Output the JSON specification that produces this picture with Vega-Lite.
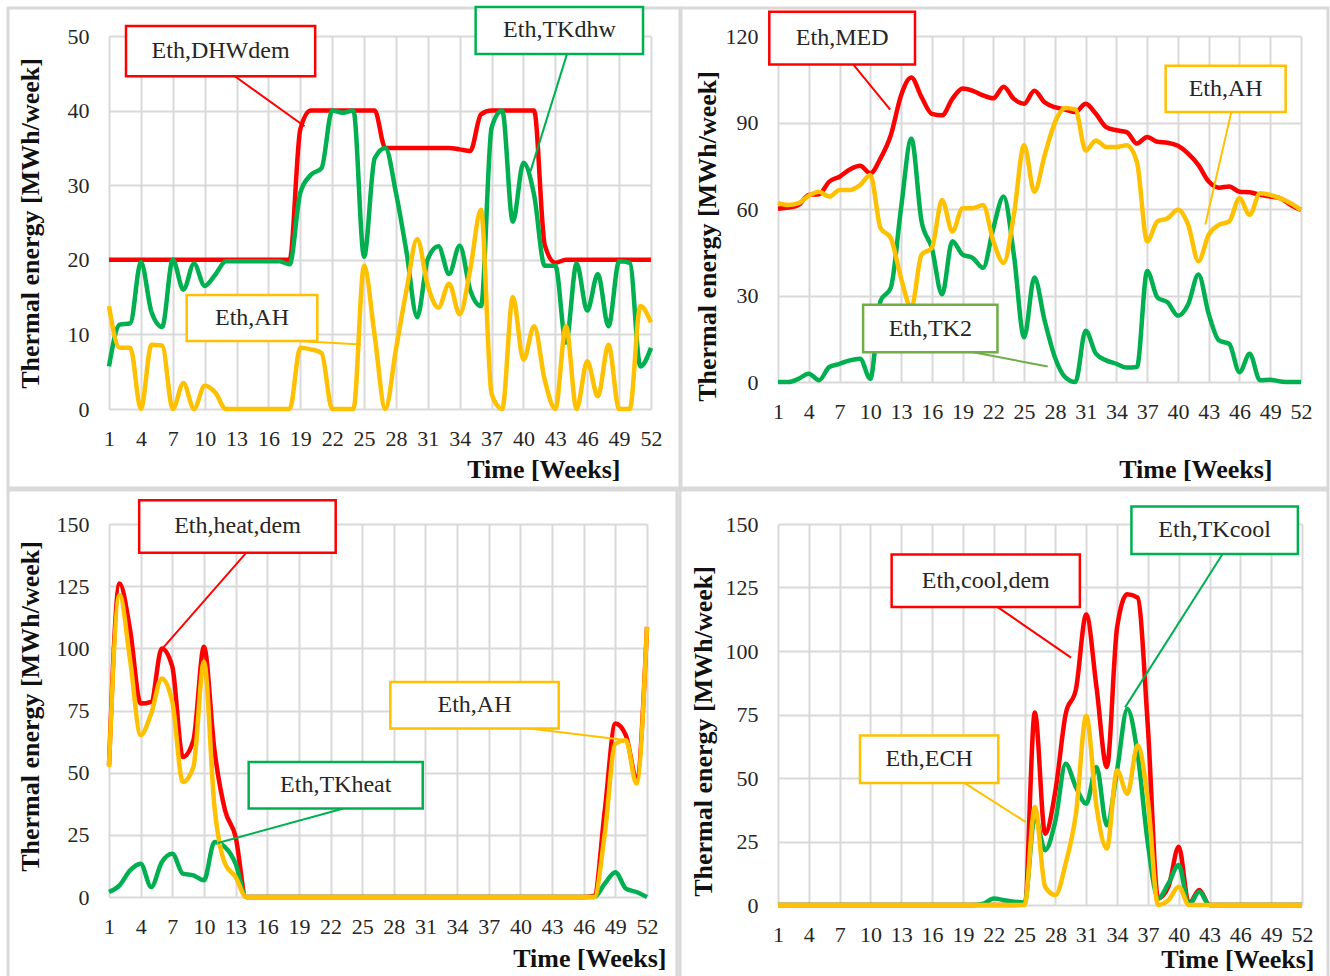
{
"$schema": "https://vega.github.io/schema/vega-lite/v6.json",
"autosize": {"type": "none"},
"padding": {"left": 109, "top": 36, "right": 1221, "bottom": 940},
"background": "white",
"bounds": "flush",
"columns": 2,
"align": "each",
"spacing": {"row": 115, "column": 127},
"datasets": {
"p1": [
{"week":1,"series":"DHWdem","value":20},{"week":2,"series":"DHWdem","value":20},{"week":3,"series":"DHWdem","value":20},{"week":4,"series":"DHWdem","value":20},{"week":5,"series":"DHWdem","value":20},{"week":6,"series":"DHWdem","value":20},{"week":7,"series":"DHWdem","value":20},{"week":8,"series":"DHWdem","value":20},{"week":9,"series":"DHWdem","value":20},{"week":10,"series":"DHWdem","value":20},{"week":11,"series":"DHWdem","value":20},{"week":12,"series":"DHWdem","value":20},{"week":13,"series":"DHWdem","value":20},{"week":14,"series":"DHWdem","value":20},{"week":15,"series":"DHWdem","value":20},{"week":16,"series":"DHWdem","value":20},{"week":17,"series":"DHWdem","value":20},{"week":18,"series":"DHWdem","value":20},{"week":19,"series":"DHWdem","value":37.5},{"week":20,"series":"DHWdem","value":40},{"week":21,"series":"DHWdem","value":40},{"week":22,"series":"DHWdem","value":40},{"week":23,"series":"DHWdem","value":40},{"week":24,"series":"DHWdem","value":40},{"week":25,"series":"DHWdem","value":40},{"week":26,"series":"DHWdem","value":40},{"week":27,"series":"DHWdem","value":35},{"week":28,"series":"DHWdem","value":35},{"week":29,"series":"DHWdem","value":35},{"week":30,"series":"DHWdem","value":35},{"week":31,"series":"DHWdem","value":35},{"week":32,"series":"DHWdem","value":35},{"week":33,"series":"DHWdem","value":35},{"week":34,"series":"DHWdem","value":34.8},{"week":35,"series":"DHWdem","value":34.6},{"week":36,"series":"DHWdem","value":39.5},{"week":37,"series":"DHWdem","value":40},{"week":38,"series":"DHWdem","value":40},{"week":39,"series":"DHWdem","value":40},{"week":40,"series":"DHWdem","value":40},{"week":41,"series":"DHWdem","value":40},{"week":42,"series":"DHWdem","value":22},{"week":43,"series":"DHWdem","value":19.6},{"week":44,"series":"DHWdem","value":20},{"week":45,"series":"DHWdem","value":20},{"week":46,"series":"DHWdem","value":20},{"week":47,"series":"DHWdem","value":20},{"week":48,"series":"DHWdem","value":20},{"week":49,"series":"DHWdem","value":20},{"week":50,"series":"DHWdem","value":20},{"week":51,"series":"DHWdem","value":20},{"week":52,"series":"DHWdem","value":20},
{"week":1,"series":"TKdhw","value":5.7},{"week":2,"series":"TKdhw","value":11.3},{"week":3,"series":"TKdhw","value":11.5},{"week":4,"series":"TKdhw","value":19.7},{"week":5,"series":"TKdhw","value":13},{"week":6,"series":"TKdhw","value":11},{"week":7,"series":"TKdhw","value":20},{"week":8,"series":"TKdhw","value":16},{"week":9,"series":"TKdhw","value":19.5},{"week":10,"series":"TKdhw","value":16.5},{"week":11,"series":"TKdhw","value":18},{"week":12,"series":"TKdhw","value":19.8},{"week":13,"series":"TKdhw","value":19.8},{"week":14,"series":"TKdhw","value":19.8},{"week":15,"series":"TKdhw","value":19.8},{"week":16,"series":"TKdhw","value":19.8},{"week":17,"series":"TKdhw","value":19.8},{"week":18,"series":"TKdhw","value":19.4},{"week":19,"series":"TKdhw","value":29},{"week":20,"series":"TKdhw","value":31.4},{"week":21,"series":"TKdhw","value":32.3},{"week":22,"series":"TKdhw","value":40},{"week":23,"series":"TKdhw","value":39.7},{"week":24,"series":"TKdhw","value":40},{"week":25,"series":"TKdhw","value":20.4},{"week":26,"series":"TKdhw","value":33.6},{"week":27,"series":"TKdhw","value":35},{"week":28,"series":"TKdhw","value":29},{"week":29,"series":"TKdhw","value":21},{"week":30,"series":"TKdhw","value":12.3},{"week":31,"series":"TKdhw","value":20.1},{"week":32,"series":"TKdhw","value":21.8},{"week":33,"series":"TKdhw","value":18.1},{"week":34,"series":"TKdhw","value":21.9},{"week":35,"series":"TKdhw","value":15.9},{"week":36,"series":"TKdhw","value":13.8},{"week":37,"series":"TKdhw","value":37.7},{"week":38,"series":"TKdhw","value":40},{"week":39,"series":"TKdhw","value":25.1},{"week":40,"series":"TKdhw","value":33},{"week":41,"series":"TKdhw","value":28.7},{"week":42,"series":"TKdhw","value":19.2},{"week":43,"series":"TKdhw","value":19.2},{"week":44,"series":"TKdhw","value":8.9},{"week":45,"series":"TKdhw","value":19.5},{"week":46,"series":"TKdhw","value":13.2},{"week":47,"series":"TKdhw","value":18.1},{"week":48,"series":"TKdhw","value":11.1},{"week":49,"series":"TKdhw","value":19.8},{"week":50,"series":"TKdhw","value":19.6},{"week":51,"series":"TKdhw","value":5.7},{"week":52,"series":"TKdhw","value":8.2},
{"week":1,"series":"AH","value":13.8},{"week":2,"series":"AH","value":8.2},{"week":3,"series":"AH","value":8.2},{"week":4,"series":"AH","value":0},{"week":5,"series":"AH","value":8.6},{"week":6,"series":"AH","value":8.5},{"week":7,"series":"AH","value":0},{"week":8,"series":"AH","value":3.5},{"week":9,"series":"AH","value":0},{"week":10,"series":"AH","value":3.1},{"week":11,"series":"AH","value":2.2},{"week":12,"series":"AH","value":0},{"week":13,"series":"AH","value":0},{"week":14,"series":"AH","value":0},{"week":15,"series":"AH","value":0},{"week":16,"series":"AH","value":0},{"week":17,"series":"AH","value":0},{"week":18,"series":"AH","value":0},{"week":19,"series":"AH","value":8.2},{"week":20,"series":"AH","value":8},{"week":21,"series":"AH","value":7.5},{"week":22,"series":"AH","value":0},{"week":23,"series":"AH","value":0},{"week":24,"series":"AH","value":0},{"week":25,"series":"AH","value":19.2},{"week":26,"series":"AH","value":9.8},{"week":27,"series":"AH","value":0},{"week":28,"series":"AH","value":8},{"week":29,"series":"AH","value":16},{"week":30,"series":"AH","value":22.8},{"week":31,"series":"AH","value":16.5},{"week":32,"series":"AH","value":13.6},{"week":33,"series":"AH","value":16.8},{"week":34,"series":"AH","value":12.7},{"week":35,"series":"AH","value":18.8},{"week":36,"series":"AH","value":26.7},{"week":37,"series":"AH","value":2},{"week":38,"series":"AH","value":0},{"week":39,"series":"AH","value":15},{"week":40,"series":"AH","value":6.6},{"week":41,"series":"AH","value":11.1},{"week":42,"series":"AH","value":3.9},{"week":43,"series":"AH","value":0},{"week":44,"series":"AH","value":11.1},{"week":45,"series":"AH","value":0},{"week":46,"series":"AH","value":6.4},{"week":47,"series":"AH","value":1.7},{"week":48,"series":"AH","value":8.6},{"week":49,"series":"AH","value":0},{"week":50,"series":"AH","value":0},{"week":51,"series":"AH","value":13.8},{"week":52,"series":"AH","value":11.6}
],
"p2": [
{"week":1,"series":"MED","value":60.1},{"week":2,"series":"MED","value":60.5},{"week":3,"series":"MED","value":61.4},{"week":4,"series":"MED","value":64.9},{"week":5,"series":"MED","value":65.1},{"week":6,"series":"MED","value":69.5},{"week":7,"series":"MED","value":71.2},{"week":8,"series":"MED","value":73.7},{"week":9,"series":"MED","value":75},{"week":10,"series":"MED","value":72.4},{"week":11,"series":"MED","value":77.6},{"week":12,"series":"MED","value":85.6},{"week":13,"series":"MED","value":99.4},{"week":14,"series":"MED","value":105.6},{"week":15,"series":"MED","value":98.8},{"week":16,"series":"MED","value":93},{"week":17,"series":"MED","value":92.5},{"week":18,"series":"MED","value":98.2},{"week":19,"series":"MED","value":101.8},{"week":20,"series":"MED","value":101},{"week":21,"series":"MED","value":99.4},{"week":22,"series":"MED","value":98.4},{"week":23,"series":"MED","value":102.4},{"week":24,"series":"MED","value":98.2},{"week":25,"series":"MED","value":96.5},{"week":26,"series":"MED","value":101},{"week":27,"series":"MED","value":97},{"week":28,"series":"MED","value":95.3},{"week":29,"series":"MED","value":94.5},{"week":30,"series":"MED","value":93.6},{"week":31,"series":"MED","value":96.5},{"week":32,"series":"MED","value":93},{"week":33,"series":"MED","value":88.4},{"week":34,"series":"MED","value":87.3},{"week":35,"series":"MED","value":86.7},{"week":36,"series":"MED","value":82.7},{"week":37,"series":"MED","value":85},{"week":38,"series":"MED","value":83.3},{"week":39,"series":"MED","value":83},{"week":40,"series":"MED","value":81.9},{"week":41,"series":"MED","value":79.2},{"week":42,"series":"MED","value":75.2},{"week":43,"series":"MED","value":69.5},{"week":44,"series":"MED","value":67.4},{"week":45,"series":"MED","value":67.8},{"week":46,"series":"MED","value":66},{"week":47,"series":"MED","value":65.8},{"week":48,"series":"MED","value":64.9},{"week":49,"series":"MED","value":64.3},{"week":50,"series":"MED","value":63.7},{"week":51,"series":"MED","value":61.4},{"week":52,"series":"MED","value":59.7},
{"week":1,"series":"AH","value":62},{"week":2,"series":"AH","value":61.4},{"week":3,"series":"AH","value":62},{"week":4,"series":"AH","value":64.6},{"week":5,"series":"AH","value":66},{"week":6,"series":"AH","value":64.3},{"week":7,"series":"AH","value":66.6},{"week":8,"series":"AH","value":66.6},{"week":9,"series":"AH","value":68.3},{"week":10,"series":"AH","value":71.8},{"week":11,"series":"AH","value":53.4},{"week":12,"series":"AH","value":49.9},{"week":13,"series":"AH","value":36},{"week":14,"series":"AH","value":25.8},{"week":15,"series":"AH","value":44.2},{"week":16,"series":"AH","value":46.5},{"week":17,"series":"AH","value":63.1},{"week":18,"series":"AH","value":52.2},{"week":19,"series":"AH","value":60.3},{"week":20,"series":"AH","value":60.3},{"week":21,"series":"AH","value":61.4},{"week":22,"series":"AH","value":48.8},{"week":23,"series":"AH","value":41.3},{"week":24,"series":"AH","value":58},{"week":25,"series":"AH","value":82.1},{"week":26,"series":"AH","value":66},{"week":27,"series":"AH","value":78.6},{"week":28,"series":"AH","value":90},{"week":29,"series":"AH","value":95},{"week":30,"series":"AH","value":94.5},{"week":31,"series":"AH","value":80.3},{"week":32,"series":"AH","value":83.8},{"week":33,"series":"AH","value":81.5},{"week":34,"series":"AH","value":81.5},{"week":35,"series":"AH","value":82.1},{"week":36,"series":"AH","value":76.3},{"week":37,"series":"AH","value":48.8},{"week":38,"series":"AH","value":55.7},{"week":39,"series":"AH","value":56.8},{"week":40,"series":"AH","value":59.7},{"week":41,"series":"AH","value":54.5},{"week":42,"series":"AH","value":41.9},{"week":43,"series":"AH","value":51.1},{"week":44,"series":"AH","value":54.5},{"week":45,"series":"AH","value":55.7},{"week":46,"series":"AH","value":63.7},{"week":47,"series":"AH","value":58},{"week":48,"series":"AH","value":65.5},{"week":49,"series":"AH","value":64.9},{"week":50,"series":"AH","value":63.7},{"week":51,"series":"AH","value":62},{"week":52,"series":"AH","value":59.7},
{"week":1,"series":"TK2","value":0},{"week":2,"series":"TK2","value":0},{"week":3,"series":"TK2","value":1.1},{"week":4,"series":"TK2","value":2.9},{"week":5,"series":"TK2","value":0.6},{"week":6,"series":"TK2","value":5.2},{"week":7,"series":"TK2","value":6.3},{"week":8,"series":"TK2","value":7.5},{"week":9,"series":"TK2","value":8.1},{"week":10,"series":"TK2","value":1.1},{"week":11,"series":"TK2","value":28.1},{"week":12,"series":"TK2","value":32.7},{"week":13,"series":"TK2","value":60.3},{"week":14,"series":"TK2","value":84.4},{"week":15,"series":"TK2","value":55.7},{"week":16,"series":"TK2","value":46.5},{"week":17,"series":"TK2","value":30.4},{"week":18,"series":"TK2","value":48.8},{"week":19,"series":"TK2","value":44.2},{"week":20,"series":"TK2","value":43},{"week":21,"series":"TK2","value":39.6},{"week":22,"series":"TK2","value":53.4},{"week":23,"series":"TK2","value":64.3},{"week":24,"series":"TK2","value":44.2},{"week":25,"series":"TK2","value":15.5},{"week":26,"series":"TK2","value":36.2},{"week":27,"series":"TK2","value":21.3},{"week":28,"series":"TK2","value":8.6},{"week":29,"series":"TK2","value":1.7},{"week":30,"series":"TK2","value":0},{"week":31,"series":"TK2","value":17.8},{"week":32,"series":"TK2","value":9.8},{"week":33,"series":"TK2","value":7.5},{"week":34,"series":"TK2","value":6.3},{"week":35,"series":"TK2","value":5},{"week":36,"series":"TK2","value":5.2},{"week":37,"series":"TK2","value":38.5},{"week":38,"series":"TK2","value":29.3},{"week":39,"series":"TK2","value":27.6},{"week":40,"series":"TK2","value":23},{"week":41,"series":"TK2","value":27},{"week":42,"series":"TK2","value":37.3},{"week":43,"series":"TK2","value":23.6},{"week":44,"series":"TK2","value":14.4},{"week":45,"series":"TK2","value":13.2},{"week":46,"series":"TK2","value":3.4},{"week":47,"series":"TK2","value":9.8},{"week":48,"series":"TK2","value":0.6},{"week":49,"series":"TK2","value":0.8},{"week":50,"series":"TK2","value":0.2},{"week":51,"series":"TK2","value":0},{"week":52,"series":"TK2","value":0}
],
"p3": [
{"week":1,"series":"heatdem","value":53},{"week":2,"series":"heatdem","value":126.1},{"week":3,"series":"heatdem","value":107.4},{"week":4,"series":"heatdem","value":77.8},{"week":5,"series":"heatdem","value":78.5},{"week":6,"series":"heatdem","value":99.9},{"week":7,"series":"heatdem","value":92.6},{"week":8,"series":"heatdem","value":56.3},{"week":9,"series":"heatdem","value":63},{"week":10,"series":"heatdem","value":100.6},{"week":11,"series":"heatdem","value":59},{"week":12,"series":"heatdem","value":34.9},{"week":13,"series":"heatdem","value":24.2},{"week":14,"series":"heatdem","value":0},{"week":15,"series":"heatdem","value":0},{"week":16,"series":"heatdem","value":0},{"week":17,"series":"heatdem","value":0},{"week":18,"series":"heatdem","value":0},{"week":19,"series":"heatdem","value":0},{"week":20,"series":"heatdem","value":0},{"week":21,"series":"heatdem","value":0},{"week":22,"series":"heatdem","value":0},{"week":23,"series":"heatdem","value":0},{"week":24,"series":"heatdem","value":0},{"week":25,"series":"heatdem","value":0},{"week":26,"series":"heatdem","value":0},{"week":27,"series":"heatdem","value":0},{"week":28,"series":"heatdem","value":0},{"week":29,"series":"heatdem","value":0},{"week":30,"series":"heatdem","value":0},{"week":31,"series":"heatdem","value":0},{"week":32,"series":"heatdem","value":0},{"week":33,"series":"heatdem","value":0},{"week":34,"series":"heatdem","value":0},{"week":35,"series":"heatdem","value":0},{"week":36,"series":"heatdem","value":0},{"week":37,"series":"heatdem","value":0},{"week":38,"series":"heatdem","value":0},{"week":39,"series":"heatdem","value":0},{"week":40,"series":"heatdem","value":0},{"week":41,"series":"heatdem","value":0},{"week":42,"series":"heatdem","value":0},{"week":43,"series":"heatdem","value":0},{"week":44,"series":"heatdem","value":0},{"week":45,"series":"heatdem","value":0},{"week":46,"series":"heatdem","value":0},{"week":47,"series":"heatdem","value":0.5},{"week":48,"series":"heatdem","value":34.9},{"week":49,"series":"heatdem","value":69.8},{"week":50,"series":"heatdem","value":65},{"week":51,"series":"heatdem","value":48.3},{"week":52,"series":"heatdem","value":108.6},
{"week":1,"series":"TKheat","value":2},{"week":2,"series":"TKheat","value":4.7},{"week":3,"series":"TKheat","value":10.7},{"week":4,"series":"TKheat","value":13.4},{"week":5,"series":"TKheat","value":4},{"week":6,"series":"TKheat","value":14},{"week":7,"series":"TKheat","value":17.4},{"week":8,"series":"TKheat","value":9.4},{"week":9,"series":"TKheat","value":8.7},{"week":10,"series":"TKheat","value":6.7},{"week":11,"series":"TKheat","value":22.1},{"week":12,"series":"TKheat","value":20.1},{"week":13,"series":"TKheat","value":13.4},{"week":14,"series":"TKheat","value":0},{"week":15,"series":"TKheat","value":0},{"week":16,"series":"TKheat","value":0},{"week":17,"series":"TKheat","value":0},{"week":18,"series":"TKheat","value":0},{"week":19,"series":"TKheat","value":0},{"week":20,"series":"TKheat","value":0},{"week":21,"series":"TKheat","value":0},{"week":22,"series":"TKheat","value":0},{"week":23,"series":"TKheat","value":0},{"week":24,"series":"TKheat","value":0},{"week":25,"series":"TKheat","value":0},{"week":26,"series":"TKheat","value":0},{"week":27,"series":"TKheat","value":0},{"week":28,"series":"TKheat","value":0},{"week":29,"series":"TKheat","value":0},{"week":30,"series":"TKheat","value":0},{"week":31,"series":"TKheat","value":0},{"week":32,"series":"TKheat","value":0},{"week":33,"series":"TKheat","value":0},{"week":34,"series":"TKheat","value":0},{"week":35,"series":"TKheat","value":0},{"week":36,"series":"TKheat","value":0},{"week":37,"series":"TKheat","value":0},{"week":38,"series":"TKheat","value":0},{"week":39,"series":"TKheat","value":0},{"week":40,"series":"TKheat","value":0},{"week":41,"series":"TKheat","value":0},{"week":42,"series":"TKheat","value":0},{"week":43,"series":"TKheat","value":0},{"week":44,"series":"TKheat","value":0},{"week":45,"series":"TKheat","value":0},{"week":46,"series":"TKheat","value":0},{"week":47,"series":"TKheat","value":0},{"week":48,"series":"TKheat","value":5.4},{"week":49,"series":"TKheat","value":10},{"week":50,"series":"TKheat","value":3.4},{"week":51,"series":"TKheat","value":2},{"week":52,"series":"TKheat","value":0},
{"week":1,"series":"AH","value":52.3},{"week":2,"series":"AH","value":121.4},{"week":3,"series":"AH","value":95.3},{"week":4,"series":"AH","value":65.1},{"week":5,"series":"AH","value":73.8},{"week":6,"series":"AH","value":87.9},{"week":7,"series":"AH","value":78.5},{"week":8,"series":"AH","value":46.3},{"week":9,"series":"AH","value":52.3},{"week":10,"series":"AH","value":94.6},{"week":11,"series":"AH","value":36.2},{"week":12,"series":"AH","value":13.4},{"week":13,"series":"AH","value":8.1},{"week":14,"series":"AH","value":0},{"week":15,"series":"AH","value":0},{"week":16,"series":"AH","value":0},{"week":17,"series":"AH","value":0},{"week":18,"series":"AH","value":0},{"week":19,"series":"AH","value":0},{"week":20,"series":"AH","value":0},{"week":21,"series":"AH","value":0},{"week":22,"series":"AH","value":0},{"week":23,"series":"AH","value":0},{"week":24,"series":"AH","value":0},{"week":25,"series":"AH","value":0},{"week":26,"series":"AH","value":0},{"week":27,"series":"AH","value":0},{"week":28,"series":"AH","value":0},{"week":29,"series":"AH","value":0},{"week":30,"series":"AH","value":0},{"week":31,"series":"AH","value":0},{"week":32,"series":"AH","value":0},{"week":33,"series":"AH","value":0},{"week":34,"series":"AH","value":0},{"week":35,"series":"AH","value":0},{"week":36,"series":"AH","value":0},{"week":37,"series":"AH","value":0},{"week":38,"series":"AH","value":0},{"week":39,"series":"AH","value":0},{"week":40,"series":"AH","value":0},{"week":41,"series":"AH","value":0},{"week":42,"series":"AH","value":0},{"week":43,"series":"AH","value":0},{"week":44,"series":"AH","value":0},{"week":45,"series":"AH","value":0},{"week":46,"series":"AH","value":0},{"week":47,"series":"AH","value":0},{"week":48,"series":"AH","value":25.5},{"week":49,"series":"AH","value":61.7},{"week":50,"series":"AH","value":63},{"week":51,"series":"AH","value":45.6},{"week":52,"series":"AH","value":108.6}
],
"p4": [
{"week":1,"series":"cooldem","value":0},{"week":2,"series":"cooldem","value":0},{"week":3,"series":"cooldem","value":0},{"week":4,"series":"cooldem","value":0},{"week":5,"series":"cooldem","value":0},{"week":6,"series":"cooldem","value":0},{"week":7,"series":"cooldem","value":0},{"week":8,"series":"cooldem","value":0},{"week":9,"series":"cooldem","value":0},{"week":10,"series":"cooldem","value":0},{"week":11,"series":"cooldem","value":0},{"week":12,"series":"cooldem","value":0},{"week":13,"series":"cooldem","value":0},{"week":14,"series":"cooldem","value":0},{"week":15,"series":"cooldem","value":0},{"week":16,"series":"cooldem","value":0},{"week":17,"series":"cooldem","value":0},{"week":18,"series":"cooldem","value":0},{"week":19,"series":"cooldem","value":0},{"week":20,"series":"cooldem","value":0},{"week":21,"series":"cooldem","value":0},{"week":22,"series":"cooldem","value":0},{"week":23,"series":"cooldem","value":0},{"week":24,"series":"cooldem","value":0},{"week":25,"series":"cooldem","value":0.5},{"week":26,"series":"cooldem","value":75.8},{"week":27,"series":"cooldem","value":28.1},{"week":28,"series":"cooldem","value":45},{"week":29,"series":"cooldem","value":75.2},{"week":30,"series":"cooldem","value":85},{"week":31,"series":"cooldem","value":114.4},{"week":32,"series":"cooldem","value":85.7},{"week":33,"series":"cooldem","value":54.3},{"week":34,"series":"cooldem","value":109.2},{"week":35,"series":"cooldem","value":122.3},{"week":36,"series":"cooldem","value":121},{"week":37,"series":"cooldem","value":70},{"week":38,"series":"cooldem","value":2.6},{"week":39,"series":"cooldem","value":7.2},{"week":40,"series":"cooldem","value":22.9},{"week":41,"series":"cooldem","value":0.5},{"week":42,"series":"cooldem","value":5.9},{"week":43,"series":"cooldem","value":0},{"week":44,"series":"cooldem","value":0},{"week":45,"series":"cooldem","value":0},{"week":46,"series":"cooldem","value":0},{"week":47,"series":"cooldem","value":0},{"week":48,"series":"cooldem","value":0},{"week":49,"series":"cooldem","value":0},{"week":50,"series":"cooldem","value":0},{"week":51,"series":"cooldem","value":0},{"week":52,"series":"cooldem","value":0},
{"week":1,"series":"TKcool","value":0},{"week":2,"series":"TKcool","value":0},{"week":3,"series":"TKcool","value":0},{"week":4,"series":"TKcool","value":0},{"week":5,"series":"TKcool","value":0},{"week":6,"series":"TKcool","value":0},{"week":7,"series":"TKcool","value":0},{"week":8,"series":"TKcool","value":0},{"week":9,"series":"TKcool","value":0},{"week":10,"series":"TKcool","value":0},{"week":11,"series":"TKcool","value":0},{"week":12,"series":"TKcool","value":0},{"week":13,"series":"TKcool","value":0},{"week":14,"series":"TKcool","value":0},{"week":15,"series":"TKcool","value":0},{"week":16,"series":"TKcool","value":0},{"week":17,"series":"TKcool","value":0},{"week":18,"series":"TKcool","value":0},{"week":19,"series":"TKcool","value":0},{"week":20,"series":"TKcool","value":0},{"week":21,"series":"TKcool","value":0.5},{"week":22,"series":"TKcool","value":2.6},{"week":23,"series":"TKcool","value":1.9},{"week":24,"series":"TKcool","value":1.3},{"week":25,"series":"TKcool","value":1},{"week":26,"series":"TKcool","value":35},{"week":27,"series":"TKcool","value":21.6},{"week":28,"series":"TKcool","value":33.3},{"week":29,"series":"TKcool","value":55.6},{"week":30,"series":"TKcool","value":46.4},{"week":31,"series":"TKcool","value":39.9},{"week":32,"series":"TKcool","value":54.3},{"week":33,"series":"TKcool","value":31.4},{"week":34,"series":"TKcool","value":53},{"week":35,"series":"TKcool","value":77.2},{"week":36,"series":"TKcool","value":59.5},{"week":37,"series":"TKcool","value":24.2},{"week":38,"series":"TKcool","value":2.6},{"week":39,"series":"TKcool","value":8.5},{"week":40,"series":"TKcool","value":15.7},{"week":41,"series":"TKcool","value":0},{"week":42,"series":"TKcool","value":5.2},{"week":43,"series":"TKcool","value":0},{"week":44,"series":"TKcool","value":0},{"week":45,"series":"TKcool","value":0},{"week":46,"series":"TKcool","value":0},{"week":47,"series":"TKcool","value":0},{"week":48,"series":"TKcool","value":0},{"week":49,"series":"TKcool","value":0},{"week":50,"series":"TKcool","value":0},{"week":51,"series":"TKcool","value":0},{"week":52,"series":"TKcool","value":0},
{"week":1,"series":"ECH","value":0},{"week":2,"series":"ECH","value":0},{"week":3,"series":"ECH","value":0},{"week":4,"series":"ECH","value":0},{"week":5,"series":"ECH","value":0},{"week":6,"series":"ECH","value":0},{"week":7,"series":"ECH","value":0},{"week":8,"series":"ECH","value":0},{"week":9,"series":"ECH","value":0},{"week":10,"series":"ECH","value":0},{"week":11,"series":"ECH","value":0},{"week":12,"series":"ECH","value":0},{"week":13,"series":"ECH","value":0},{"week":14,"series":"ECH","value":0},{"week":15,"series":"ECH","value":0},{"week":16,"series":"ECH","value":0},{"week":17,"series":"ECH","value":0},{"week":18,"series":"ECH","value":0},{"week":19,"series":"ECH","value":0},{"week":20,"series":"ECH","value":0},{"week":21,"series":"ECH","value":0},{"week":22,"series":"ECH","value":0},{"week":23,"series":"ECH","value":0},{"week":24,"series":"ECH","value":0},{"week":25,"series":"ECH","value":0},{"week":26,"series":"ECH","value":38.6},{"week":27,"series":"ECH","value":7.2},{"week":28,"series":"ECH","value":3.9},{"week":29,"series":"ECH","value":16.4},{"week":30,"series":"ECH","value":36},{"week":31,"series":"ECH","value":74.5},{"week":32,"series":"ECH","value":38.6},{"week":33,"series":"ECH","value":22.2},{"week":34,"series":"ECH","value":53},{"week":35,"series":"ECH","value":43.8},{"week":36,"series":"ECH","value":62.8},{"week":37,"series":"ECH","value":41.2},{"week":38,"series":"ECH","value":0},{"week":39,"series":"ECH","value":1.9},{"week":40,"series":"ECH","value":7.2},{"week":41,"series":"ECH","value":0},{"week":42,"series":"ECH","value":0},{"week":43,"series":"ECH","value":0},{"week":44,"series":"ECH","value":0},{"week":45,"series":"ECH","value":0},{"week":46,"series":"ECH","value":0},{"week":47,"series":"ECH","value":0},{"week":48,"series":"ECH","value":0},{"week":49,"series":"ECH","value":0},{"week":50,"series":"ECH","value":0},{"week":51,"series":"ECH","value":0},{"week":52,"series":"ECH","value":0}
],
"notes": [
{"panel":1,"series":"DHWdem","label":"Eth,DHWdem","bx1":2.6,"bx2":20.4,"by1":44.6,"by2":51.35,"cx":11.5,"cy":47.97,"lx1":12.84,"ly1":44.6,"lx2":19.4,"ly2":37.9},
{"panel":1,"series":"TKdhw","label":"Eth,TKdhw","bx1":35.5,"bx2":51.25,"by1":47.6,"by2":53.9,"cx":43.38,"cy":50.75,"lx1":44.1,"ly1":47.6,"lx2":40.66,"ly2":31.85},
{"panel":1,"series":"AH","label":"Eth,AH","bx1":8.31,"bx2":20.6,"by1":9.1,"by2":15.27,"cx":14.46,"cy":12.18,"lx1":17.53,"ly1":9.2,"lx2":24.72,"ly2":8.65},
{"panel":2,"series":"MED","label":"Eth,MED","bx1":0.15,"bx2":14.36,"by1":110.1,"by2":128.4,"cx":7.26,"cy":119.25,"lx1":8.35,"ly1":110.1,"lx2":11.94,"ly2":94.5},
{"panel":2,"series":"AH","label":"Eth,AH","bx1":38.8,"bx2":50.5,"by1":93.6,"by2":109.7,"cx":44.65,"cy":101.65,"lx1":45.2,"ly1":93.6,"lx2":42.67,"ly2":54.6},
{"panel":2,"series":"TK2","label":"Eth,TK2","bx1":9.3,"bx2":22.4,"by1":10.3,"by2":26.8,"cx":15.85,"cy":18.55,"lx1":19.14,"ly1":10.9,"lx2":27.3,"ly2":5.4},
{"panel":3,"series":"heatdem","label":"Eth,heat,dem","bx1":3.86,"bx2":22.49,"by1":138.4,"by2":159.6,"cx":13.18,"cy":149,"lx1":14.0,"ly1":138.4,"lx2":6.08,"ly2":100},
{"panel":3,"series":"TKheat","label":"Eth,TKheat","bx1":14.24,"bx2":30.74,"by1":35.6,"by2":54.3,"cx":22.49,"cy":44.95,"lx1":23.22,"ly1":35.6,"lx2":11.31,"ly2":21.7},
{"panel":3,"series":"AH","label":"Eth,AH","bx1":27.67,"bx2":43.63,"by1":67.8,"by2":86.5,"cx":35.65,"cy":77.15,"lx1":39.72,"ly1":68.4,"lx2":49.89,"ly2":63.1},
{"panel":4,"series":"cooldem","label":"Eth,cool,dem","bx1":12.06,"bx2":30.38,"by1":117.3,"by2":138,"cx":21.22,"cy":127.65,"lx1":22.38,"ly1":117.3,"lx2":29.52,"ly2":97.4},
{"panel":4,"series":"TKcool","label":"Eth,TKcool","bx1":35.4,"bx2":51.6,"by1":138.2,"by2":156.9,"cx":43.5,"cy":147.55,"lx1":44.27,"ly1":138.2,"lx2":34.78,"ly2":77.8},
{"panel":4,"series":"ECH","label":"Eth,ECH","bx1":8.98,"bx2":22.44,"by1":48,"by2":66.7,"cx":15.71,"cy":57.35,"lx1":19.17,"ly1":48,"lx2":25.1,"ly2":32.7}
]
},
"concat": [
{
"width": 542, "height": 373,
"layer": [
{"data": {"name": "p1"}, "transform": [{"filter": "datum.series === 'DHWdem'"}], "mark": {"type": "line", "interpolate": "monotone", "strokeWidth": 4.5, "color": "#FF0000"},
 "encoding": {"x": {"field": "week", "type": "quantitative", "scale": {"domain": [1, 52], "nice": false, "zero": false}, "axis": {"values": [1,4,7,10,13,16,19,22,25,28,31,34,37,40,43,46,49,52], "title": "Time [Weeks]", "titleAlign": "right", "titleX": 511, "titleY": 68, "titleBaseline": "alphabetic"}},
  "y": {"field": "value", "type": "quantitative", "scale": {"domain": [0, 50], "nice": false, "zero": false}, "axis": {"values": [0,10,20,30,40,50], "title": "Thermal energy [MWh/week]", "titleX": -71, "titleY": 187, "titleAlign": "center", "titleBaseline": "alphabetic", "titleAngle": -90}}}},
{"data": {"values": [{}]}, "mark": {"type": "rect", "fillOpacity": 0, "stroke": "#d9d9d9", "strokeWidth": 3},
 "encoding": {"x": {"datum": -8.5, "type": "quantitative", "scale": {"domain": [1, 52], "nice": false, "zero": false}, "axis": {"values": [1,4,7,10,13,16,19,22,25,28,31,34,37,40,43,46,49,52], "title": "Time [Weeks]", "titleAlign": "right", "titleX": 511, "titleY": 68, "titleBaseline": "alphabetic"}}, "x2": {"datum": 54.73},
  "y": {"datum": 53.75, "type": "quantitative", "scale": {"domain": [0, 50], "nice": false, "zero": false}, "axis": {"values": [0,10,20,30,40,50], "title": "Thermal energy [MWh/week]", "titleX": -71, "titleY": 187, "titleAlign": "center", "titleBaseline": "alphabetic", "titleAngle": -90}}, "y2": {"datum": -10.59}}},
{"data": {"name": "p1"}, "transform": [{"filter": "datum.series === 'TKdhw'"}], "mark": {"type": "line", "interpolate": "monotone", "strokeWidth": 4.5, "color": "#00B050"},
 "encoding": {"x": {"field": "week", "type": "quantitative", "scale": {"domain": [1, 52], "nice": false, "zero": false}, "axis": {"values": [1,4,7,10,13,16,19,22,25,28,31,34,37,40,43,46,49,52], "title": "Time [Weeks]", "titleAlign": "right", "titleX": 511, "titleY": 68, "titleBaseline": "alphabetic"}},
  "y": {"field": "value", "type": "quantitative", "scale": {"domain": [0, 50], "nice": false, "zero": false}, "axis": {"values": [0,10,20,30,40,50], "title": "Thermal energy [MWh/week]", "titleX": -71, "titleY": 187, "titleAlign": "center", "titleBaseline": "alphabetic", "titleAngle": -90}}}},
{"data": {"name": "p1"}, "transform": [{"filter": "datum.series === 'AH'"}], "mark": {"type": "line", "interpolate": "monotone", "strokeWidth": 4.5, "color": "#FFC000"},
 "encoding": {"x": {"field": "week", "type": "quantitative", "scale": {"domain": [1, 52], "nice": false, "zero": false}, "axis": {"values": [1,4,7,10,13,16,19,22,25,28,31,34,37,40,43,46,49,52], "title": "Time [Weeks]", "titleAlign": "right", "titleX": 511, "titleY": 68, "titleBaseline": "alphabetic"}},
  "y": {"field": "value", "type": "quantitative", "scale": {"domain": [0, 50], "nice": false, "zero": false}, "axis": {"values": [0,10,20,30,40,50], "title": "Thermal energy [MWh/week]", "titleX": -71, "titleY": 187, "titleAlign": "center", "titleBaseline": "alphabetic", "titleAngle": -90}}}},
{"data": {"name": "notes"}, "transform": [{"filter": "datum.panel === 1"}],
 "encoding": {"stroke": {"condition": [{"test": "datum.series === 'DHWdem'", "value": "#FF0000"}, {"test": "datum.series === 'TKdhw'", "value": "#00B050"}], "value": "#FFC000"}},
 "layer": [
  {"mark": {"type": "rule", "strokeWidth": 2}, "encoding": {"x": {"field": "lx1", "type": "quantitative", "scale": {"domain": [1, 52], "nice": false, "zero": false}, "axis": {"values": [1,4,7,10,13,16,19,22,25,28,31,34,37,40,43,46,49,52], "title": "Time [Weeks]", "titleAlign": "right", "titleX": 511, "titleY": 68, "titleBaseline": "alphabetic"}}, "y": {"field": "ly1", "type": "quantitative", "scale": {"domain": [0, 50], "nice": false, "zero": false}, "axis": {"values": [0,10,20,30,40,50], "title": "Thermal energy [MWh/week]", "titleX": -71, "titleY": 187, "titleAlign": "center", "titleBaseline": "alphabetic", "titleAngle": -90}}, "x2": {"field": "lx2"}, "y2": {"field": "ly2"}}},
  {"mark": {"type": "rect", "fill": "white", "strokeWidth": 2.5}, "encoding": {"x": {"field": "bx1", "type": "quantitative", "scale": {"domain": [1, 52], "nice": false, "zero": false}, "axis": {"values": [1,4,7,10,13,16,19,22,25,28,31,34,37,40,43,46,49,52], "title": "Time [Weeks]", "titleAlign": "right", "titleX": 511, "titleY": 68, "titleBaseline": "alphabetic"}}, "x2": {"field": "bx2"}, "y": {"field": "by1", "type": "quantitative", "scale": {"domain": [0, 50], "nice": false, "zero": false}, "axis": {"values": [0,10,20,30,40,50], "title": "Thermal energy [MWh/week]", "titleX": -71, "titleY": 187, "titleAlign": "center", "titleBaseline": "alphabetic", "titleAngle": -90}}, "y2": {"field": "by2"}}},
  {"mark": {"type": "text", "font": "Liberation Serif", "fontSize": 24, "color": "#262626", "baseline": "middle", "align": "center"}, "encoding": {"x": {"field": "cx", "type": "quantitative", "scale": {"domain": [1, 52], "nice": false, "zero": false}, "axis": {"values": [1,4,7,10,13,16,19,22,25,28,31,34,37,40,43,46,49,52], "title": "Time [Weeks]", "titleAlign": "right", "titleX": 511, "titleY": 68, "titleBaseline": "alphabetic"}}, "y": {"field": "cy", "type": "quantitative", "scale": {"domain": [0, 50], "nice": false, "zero": false}, "axis": {"values": [0,10,20,30,40,50], "title": "Thermal energy [MWh/week]", "titleX": -71, "titleY": 187, "titleAlign": "center", "titleBaseline": "alphabetic", "titleAngle": -90}}, "text": {"field": "label"}, "stroke": {"value": null}}}
 ]}
]
},
{
"width": 523, "height": 346,
"layer": [
{"data": {"name": "p2"}, "transform": [{"filter": "datum.series === 'MED'"}], "mark": {"type": "line", "interpolate": "monotone", "strokeWidth": 4.5, "color": "#FF0000"},
 "encoding": {"x": {"field": "week", "type": "quantitative", "scale": {"domain": [1, 52], "nice": false, "zero": false}, "axis": {"values": [1,4,7,10,13,16,19,22,25,28,31,34,37,40,43,46,49,52], "title": "Time [Weeks]", "titleAlign": "right", "titleX": 494, "titleY": 95, "titleBaseline": "alphabetic"}},
  "y": {"field": "value", "type": "quantitative", "scale": {"domain": [0, 120], "nice": false, "zero": false}, "axis": {"values": [0,30,60,90,120], "title": "Thermal energy [MWh/week]", "titleX": -63, "titleY": 200, "titleAlign": "center", "titleBaseline": "alphabetic", "titleAngle": -90}}}},
{"data": {"values": [{}]}, "mark": {"type": "rect", "fillOpacity": 0, "stroke": "#d9d9d9", "strokeWidth": 3},
 "encoding": {"x": {"datum": -8.46, "type": "quantitative", "scale": {"domain": [1, 52], "nice": false, "zero": false}, "axis": {"values": [1,4,7,10,13,16,19,22,25,28,31,34,37,40,43,46,49,52], "title": "Time [Weeks]", "titleAlign": "right", "titleX": 494, "titleY": 95, "titleBaseline": "alphabetic"}}, "x2": {"datum": 54.63},
  "y": {"datum": 129.7, "type": "quantitative", "scale": {"domain": [0, 120], "nice": false, "zero": false}, "axis": {"values": [0,30,60,90,120], "title": "Thermal energy [MWh/week]", "titleX": -63, "titleY": 200, "titleAlign": "center", "titleBaseline": "alphabetic", "titleAngle": -90}}, "y2": {"datum": -36.77}}},
{"data": {"name": "p2"}, "transform": [{"filter": "datum.series === 'TK2'"}], "mark": {"type": "line", "interpolate": "monotone", "strokeWidth": 4.5, "color": "#00B050"},
 "encoding": {"x": {"field": "week", "type": "quantitative", "scale": {"domain": [1, 52], "nice": false, "zero": false}, "axis": {"values": [1,4,7,10,13,16,19,22,25,28,31,34,37,40,43,46,49,52], "title": "Time [Weeks]", "titleAlign": "right", "titleX": 494, "titleY": 95, "titleBaseline": "alphabetic"}},
  "y": {"field": "value", "type": "quantitative", "scale": {"domain": [0, 120], "nice": false, "zero": false}, "axis": {"values": [0,30,60,90,120], "title": "Thermal energy [MWh/week]", "titleX": -63, "titleY": 200, "titleAlign": "center", "titleBaseline": "alphabetic", "titleAngle": -90}}}},
{"data": {"name": "p2"}, "transform": [{"filter": "datum.series === 'AH'"}], "mark": {"type": "line", "interpolate": "monotone", "strokeWidth": 4.5, "color": "#FFC000"},
 "encoding": {"x": {"field": "week", "type": "quantitative", "scale": {"domain": [1, 52], "nice": false, "zero": false}, "axis": {"values": [1,4,7,10,13,16,19,22,25,28,31,34,37,40,43,46,49,52], "title": "Time [Weeks]", "titleAlign": "right", "titleX": 494, "titleY": 95, "titleBaseline": "alphabetic"}},
  "y": {"field": "value", "type": "quantitative", "scale": {"domain": [0, 120], "nice": false, "zero": false}, "axis": {"values": [0,30,60,90,120], "title": "Thermal energy [MWh/week]", "titleX": -63, "titleY": 200, "titleAlign": "center", "titleBaseline": "alphabetic", "titleAngle": -90}}}},
{"data": {"name": "notes"}, "transform": [{"filter": "datum.panel === 2"}],
 "encoding": {"stroke": {"condition": [{"test": "datum.series === 'MED'", "value": "#FF0000"}, {"test": "datum.series === 'TK2'", "value": "#70AD47"}], "value": "#FFC000"}},
 "layer": [
  {"mark": {"type": "rule", "strokeWidth": 2}, "encoding": {"x": {"field": "lx1", "type": "quantitative", "scale": {"domain": [1, 52], "nice": false, "zero": false}, "axis": {"values": [1,4,7,10,13,16,19,22,25,28,31,34,37,40,43,46,49,52], "title": "Time [Weeks]", "titleAlign": "right", "titleX": 494, "titleY": 95, "titleBaseline": "alphabetic"}}, "y": {"field": "ly1", "type": "quantitative", "scale": {"domain": [0, 120], "nice": false, "zero": false}, "axis": {"values": [0,30,60,90,120], "title": "Thermal energy [MWh/week]", "titleX": -63, "titleY": 200, "titleAlign": "center", "titleBaseline": "alphabetic", "titleAngle": -90}}, "x2": {"field": "lx2"}, "y2": {"field": "ly2"}}},
  {"mark": {"type": "rect", "fill": "white", "strokeWidth": 2.5}, "encoding": {"x": {"field": "bx1", "type": "quantitative", "scale": {"domain": [1, 52], "nice": false, "zero": false}, "axis": {"values": [1,4,7,10,13,16,19,22,25,28,31,34,37,40,43,46,49,52], "title": "Time [Weeks]", "titleAlign": "right", "titleX": 494, "titleY": 95, "titleBaseline": "alphabetic"}}, "x2": {"field": "bx2"}, "y": {"field": "by1", "type": "quantitative", "scale": {"domain": [0, 120], "nice": false, "zero": false}, "axis": {"values": [0,30,60,90,120], "title": "Thermal energy [MWh/week]", "titleX": -63, "titleY": 200, "titleAlign": "center", "titleBaseline": "alphabetic", "titleAngle": -90}}, "y2": {"field": "by2"}}},
  {"mark": {"type": "text", "font": "Liberation Serif", "fontSize": 24, "color": "#262626", "baseline": "middle", "align": "center"}, "encoding": {"x": {"field": "cx", "type": "quantitative", "scale": {"domain": [1, 52], "nice": false, "zero": false}, "axis": {"values": [1,4,7,10,13,16,19,22,25,28,31,34,37,40,43,46,49,52], "title": "Time [Weeks]", "titleAlign": "right", "titleX": 494, "titleY": 95, "titleBaseline": "alphabetic"}}, "y": {"field": "cy", "type": "quantitative", "scale": {"domain": [0, 120], "nice": false, "zero": false}, "axis": {"values": [0,30,60,90,120], "title": "Thermal energy [MWh/week]", "titleX": -63, "titleY": 200, "titleAlign": "center", "titleBaseline": "alphabetic", "titleAngle": -90}}, "text": {"field": "label"}, "stroke": {"value": null}}}
 ]}
]
},
{
"width": 538, "height": 373,
"layer": [
{"data": {"name": "p3"}, "transform": [{"filter": "datum.series === 'heatdem'"}], "mark": {"type": "line", "interpolate": "monotone", "strokeWidth": 4.5, "color": "#FF0000"},
 "encoding": {"x": {"field": "week", "type": "quantitative", "scale": {"domain": [1, 52], "nice": false, "zero": false}, "axis": {"values": [1,4,7,10,13,16,19,22,25,28,31,34,37,40,43,46,49,52], "title": "Time [Weeks]", "titleAlign": "right", "titleX": 557, "titleY": 69, "titleBaseline": "alphabetic"}},
  "y": {"field": "value", "type": "quantitative", "scale": {"domain": [0, 150], "nice": false, "zero": false}, "axis": {"values": [0,25,50,75,100,125,150], "title": "Thermal energy [MWh/week]", "titleX": -71, "titleY": 182, "titleAlign": "center", "titleBaseline": "alphabetic", "titleAngle": -90}}}},
{"data": {"values": [{}]}, "mark": {"type": "rect", "fillOpacity": 0, "stroke": "#d9d9d9", "strokeWidth": 3},
 "encoding": {"x": {"datum": -8.57, "type": "quantitative", "scale": {"domain": [1, 52], "nice": false, "zero": false}, "axis": {"values": [1,4,7,10,13,16,19,22,25,28,31,34,37,40,43,46,49,52], "title": "Time [Weeks]", "titleAlign": "right", "titleX": 557, "titleY": 69, "titleBaseline": "alphabetic"}}, "x2": {"datum": 54.84},
  "y": {"datum": 163.65, "type": "quantitative", "scale": {"domain": [0, 150], "nice": false, "zero": false}, "axis": {"values": [0,25,50,75,100,125,150], "title": "Thermal energy [MWh/week]", "titleX": -71, "titleY": 182, "titleAlign": "center", "titleBaseline": "alphabetic", "titleAngle": -90}}, "y2": {"datum": -33.4}}},
{"data": {"name": "p3"}, "transform": [{"filter": "datum.series === 'TKheat'"}], "mark": {"type": "line", "interpolate": "monotone", "strokeWidth": 4.5, "color": "#00B050"},
 "encoding": {"x": {"field": "week", "type": "quantitative", "scale": {"domain": [1, 52], "nice": false, "zero": false}, "axis": {"values": [1,4,7,10,13,16,19,22,25,28,31,34,37,40,43,46,49,52], "title": "Time [Weeks]", "titleAlign": "right", "titleX": 557, "titleY": 69, "titleBaseline": "alphabetic"}},
  "y": {"field": "value", "type": "quantitative", "scale": {"domain": [0, 150], "nice": false, "zero": false}, "axis": {"values": [0,25,50,75,100,125,150], "title": "Thermal energy [MWh/week]", "titleX": -71, "titleY": 182, "titleAlign": "center", "titleBaseline": "alphabetic", "titleAngle": -90}}}},
{"data": {"name": "p3"}, "transform": [{"filter": "datum.series === 'AH'"}], "mark": {"type": "line", "interpolate": "monotone", "strokeWidth": 4.5, "color": "#FFC000"},
 "encoding": {"x": {"field": "week", "type": "quantitative", "scale": {"domain": [1, 52], "nice": false, "zero": false}, "axis": {"values": [1,4,7,10,13,16,19,22,25,28,31,34,37,40,43,46,49,52], "title": "Time [Weeks]", "titleAlign": "right", "titleX": 557, "titleY": 69, "titleBaseline": "alphabetic"}},
  "y": {"field": "value", "type": "quantitative", "scale": {"domain": [0, 150], "nice": false, "zero": false}, "axis": {"values": [0,25,50,75,100,125,150], "title": "Thermal energy [MWh/week]", "titleX": -71, "titleY": 182, "titleAlign": "center", "titleBaseline": "alphabetic", "titleAngle": -90}}}},
{"data": {"name": "notes"}, "transform": [{"filter": "datum.panel === 3"}],
 "encoding": {"stroke": {"condition": [{"test": "datum.series === 'heatdem'", "value": "#FF0000"}, {"test": "datum.series === 'TKheat'", "value": "#00B050"}], "value": "#FFC000"}},
 "layer": [
  {"mark": {"type": "rule", "strokeWidth": 2}, "encoding": {"x": {"field": "lx1", "type": "quantitative", "scale": {"domain": [1, 52], "nice": false, "zero": false}, "axis": {"values": [1,4,7,10,13,16,19,22,25,28,31,34,37,40,43,46,49,52], "title": "Time [Weeks]", "titleAlign": "right", "titleX": 557, "titleY": 69, "titleBaseline": "alphabetic"}}, "y": {"field": "ly1", "type": "quantitative", "scale": {"domain": [0, 150], "nice": false, "zero": false}, "axis": {"values": [0,25,50,75,100,125,150], "title": "Thermal energy [MWh/week]", "titleX": -71, "titleY": 182, "titleAlign": "center", "titleBaseline": "alphabetic", "titleAngle": -90}}, "x2": {"field": "lx2"}, "y2": {"field": "ly2"}}},
  {"mark": {"type": "rect", "fill": "white", "strokeWidth": 2.5}, "encoding": {"x": {"field": "bx1", "type": "quantitative", "scale": {"domain": [1, 52], "nice": false, "zero": false}, "axis": {"values": [1,4,7,10,13,16,19,22,25,28,31,34,37,40,43,46,49,52], "title": "Time [Weeks]", "titleAlign": "right", "titleX": 557, "titleY": 69, "titleBaseline": "alphabetic"}}, "x2": {"field": "bx2"}, "y": {"field": "by1", "type": "quantitative", "scale": {"domain": [0, 150], "nice": false, "zero": false}, "axis": {"values": [0,25,50,75,100,125,150], "title": "Thermal energy [MWh/week]", "titleX": -71, "titleY": 182, "titleAlign": "center", "titleBaseline": "alphabetic", "titleAngle": -90}}, "y2": {"field": "by2"}}},
  {"mark": {"type": "text", "font": "Liberation Serif", "fontSize": 24, "color": "#262626", "baseline": "middle", "align": "center"}, "encoding": {"x": {"field": "cx", "type": "quantitative", "scale": {"domain": [1, 52], "nice": false, "zero": false}, "axis": {"values": [1,4,7,10,13,16,19,22,25,28,31,34,37,40,43,46,49,52], "title": "Time [Weeks]", "titleAlign": "right", "titleX": 557, "titleY": 69, "titleBaseline": "alphabetic"}}, "y": {"field": "cy", "type": "quantitative", "scale": {"domain": [0, 150], "nice": false, "zero": false}, "axis": {"values": [0,25,50,75,100,125,150], "title": "Thermal energy [MWh/week]", "titleX": -71, "titleY": 182, "titleAlign": "center", "titleBaseline": "alphabetic", "titleAngle": -90}}, "text": {"field": "label"}, "stroke": {"value": null}}}
 ]}
]
},
{
"width": 524, "height": 381,
"layer": [
{"data": {"name": "p4"}, "transform": [{"filter": "datum.series === 'cooldem'"}], "mark": {"type": "line", "interpolate": "monotone", "strokeWidth": 4.5, "color": "#FF0000"},
 "encoding": {"x": {"field": "week", "type": "quantitative", "scale": {"domain": [1, 52], "nice": false, "zero": false}, "axis": {"values": [1,4,7,10,13,16,19,22,25,28,31,34,37,40,43,46,49,52], "title": "Time [Weeks]", "titleAlign": "right", "titleX": 536, "titleY": 62, "titleBaseline": "alphabetic"}},
  "y": {"field": "value", "type": "quantitative", "scale": {"domain": [0, 150], "nice": false, "zero": false}, "axis": {"values": [0,25,50,75,100,125,150], "title": "Thermal energy [MWh/week]", "titleX": -67, "titleY": 207, "titleAlign": "center", "titleBaseline": "alphabetic", "titleAngle": -90}}}},
{"data": {"values": [{}]}, "mark": {"type": "rect", "fillOpacity": 0, "stroke": "#d9d9d9", "strokeWidth": 3},
 "encoding": {"x": {"datum": -8.54, "type": "quantitative", "scale": {"domain": [1, 52], "nice": false, "zero": false}, "axis": {"values": [1,4,7,10,13,16,19,22,25,28,31,34,37,40,43,46,49,52], "title": "Time [Weeks]", "titleAlign": "right", "titleX": 536, "titleY": 62, "titleBaseline": "alphabetic"}}, "x2": {"datum": 54.53},
  "y": {"datum": 163.4, "type": "quantitative", "scale": {"domain": [0, 150], "nice": false, "zero": false}, "axis": {"values": [0,25,50,75,100,125,150], "title": "Thermal energy [MWh/week]", "titleX": -67, "titleY": 207, "titleAlign": "center", "titleBaseline": "alphabetic", "titleAngle": -90}}, "y2": {"datum": -29.5}}},
{"data": {"name": "p4"}, "transform": [{"filter": "datum.series === 'TKcool'"}], "mark": {"type": "line", "interpolate": "monotone", "strokeWidth": 4.5, "color": "#00B050"},
 "encoding": {"x": {"field": "week", "type": "quantitative", "scale": {"domain": [1, 52], "nice": false, "zero": false}, "axis": {"values": [1,4,7,10,13,16,19,22,25,28,31,34,37,40,43,46,49,52], "title": "Time [Weeks]", "titleAlign": "right", "titleX": 536, "titleY": 62, "titleBaseline": "alphabetic"}},
  "y": {"field": "value", "type": "quantitative", "scale": {"domain": [0, 150], "nice": false, "zero": false}, "axis": {"values": [0,25,50,75,100,125,150], "title": "Thermal energy [MWh/week]", "titleX": -67, "titleY": 207, "titleAlign": "center", "titleBaseline": "alphabetic", "titleAngle": -90}}}},
{"data": {"name": "p4"}, "transform": [{"filter": "datum.series === 'ECH'"}], "mark": {"type": "line", "interpolate": "monotone", "strokeWidth": 4.5, "color": "#FFC000"},
 "encoding": {"x": {"field": "week", "type": "quantitative", "scale": {"domain": [1, 52], "nice": false, "zero": false}, "axis": {"values": [1,4,7,10,13,16,19,22,25,28,31,34,37,40,43,46,49,52], "title": "Time [Weeks]", "titleAlign": "right", "titleX": 536, "titleY": 62, "titleBaseline": "alphabetic"}},
  "y": {"field": "value", "type": "quantitative", "scale": {"domain": [0, 150], "nice": false, "zero": false}, "axis": {"values": [0,25,50,75,100,125,150], "title": "Thermal energy [MWh/week]", "titleX": -67, "titleY": 207, "titleAlign": "center", "titleBaseline": "alphabetic", "titleAngle": -90}}}},
{"data": {"name": "notes"}, "transform": [{"filter": "datum.panel === 4"}],
 "encoding": {"stroke": {"condition": [{"test": "datum.series === 'cooldem'", "value": "#FF0000"}, {"test": "datum.series === 'TKcool'", "value": "#00B050"}], "value": "#FFC000"}},
 "layer": [
  {"mark": {"type": "rule", "strokeWidth": 2}, "encoding": {"x": {"field": "lx1", "type": "quantitative", "scale": {"domain": [1, 52], "nice": false, "zero": false}, "axis": {"values": [1,4,7,10,13,16,19,22,25,28,31,34,37,40,43,46,49,52], "title": "Time [Weeks]", "titleAlign": "right", "titleX": 536, "titleY": 62, "titleBaseline": "alphabetic"}}, "y": {"field": "ly1", "type": "quantitative", "scale": {"domain": [0, 150], "nice": false, "zero": false}, "axis": {"values": [0,25,50,75,100,125,150], "title": "Thermal energy [MWh/week]", "titleX": -67, "titleY": 207, "titleAlign": "center", "titleBaseline": "alphabetic", "titleAngle": -90}}, "x2": {"field": "lx2"}, "y2": {"field": "ly2"}}},
  {"mark": {"type": "rect", "fill": "white", "strokeWidth": 2.5}, "encoding": {"x": {"field": "bx1", "type": "quantitative", "scale": {"domain": [1, 52], "nice": false, "zero": false}, "axis": {"values": [1,4,7,10,13,16,19,22,25,28,31,34,37,40,43,46,49,52], "title": "Time [Weeks]", "titleAlign": "right", "titleX": 536, "titleY": 62, "titleBaseline": "alphabetic"}}, "x2": {"field": "bx2"}, "y": {"field": "by1", "type": "quantitative", "scale": {"domain": [0, 150], "nice": false, "zero": false}, "axis": {"values": [0,25,50,75,100,125,150], "title": "Thermal energy [MWh/week]", "titleX": -67, "titleY": 207, "titleAlign": "center", "titleBaseline": "alphabetic", "titleAngle": -90}}, "y2": {"field": "by2"}}},
  {"mark": {"type": "text", "font": "Liberation Serif", "fontSize": 24, "color": "#262626", "baseline": "middle", "align": "center"}, "encoding": {"x": {"field": "cx", "type": "quantitative", "scale": {"domain": [1, 52], "nice": false, "zero": false}, "axis": {"values": [1,4,7,10,13,16,19,22,25,28,31,34,37,40,43,46,49,52], "title": "Time [Weeks]", "titleAlign": "right", "titleX": 536, "titleY": 62, "titleBaseline": "alphabetic"}}, "y": {"field": "cy", "type": "quantitative", "scale": {"domain": [0, 150], "nice": false, "zero": false}, "axis": {"values": [0,25,50,75,100,125,150], "title": "Thermal energy [MWh/week]", "titleX": -67, "titleY": 207, "titleAlign": "center", "titleBaseline": "alphabetic", "titleAngle": -90}}, "text": {"field": "label"}, "stroke": {"value": null}}}
 ]}
]
}
],
"config": {
"view": {"stroke": null},
"axis": {"domain": false, "ticks": false, "tickSize": 0, "grid": true, "gridColor": "#d9d9d9", "gridWidth": 2, "labelFont": "Liberation Serif", "labelFontSize": 22, "labelColor": "#262626", "labelOverlap": false, "titleFont": "Liberation Serif", "titleFontSize": 26, "titleFontWeight": "bold", "titleColor": "#111111"},
"axisX": {"labelBaseline": "alphabetic", "labelPadding": 36, "labelFlush": false, "labelAngle": 0},
"axisY": {"labelPadding": 20}
}
}
